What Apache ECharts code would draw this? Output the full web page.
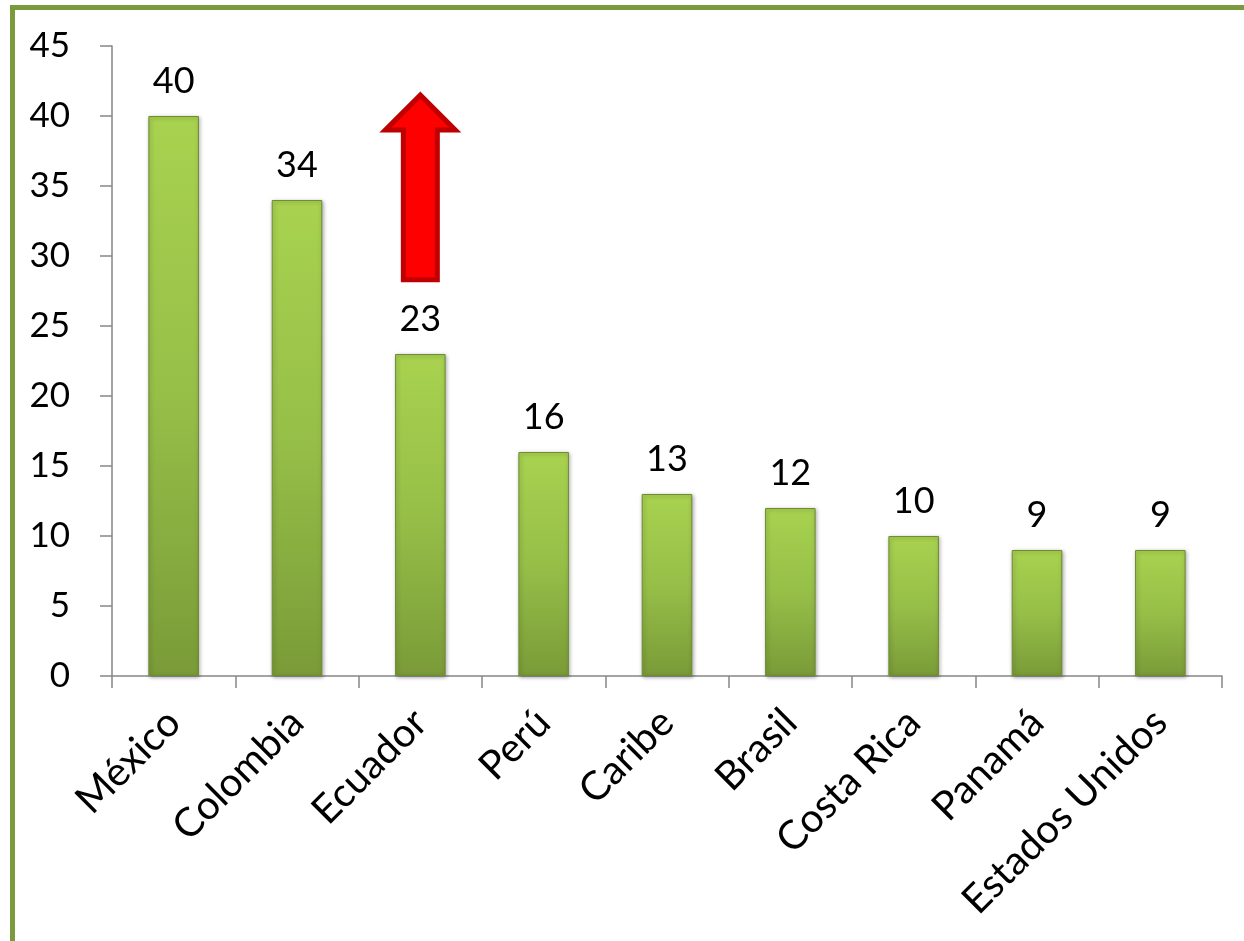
<!DOCTYPE html>
<html>
<head>
<meta charset="utf-8">
<script src="https://cdn.jsdelivr.net/npm/echarts@6/dist/echarts.min.js"></script>
<style>
html,body{margin:0;padding:0;background:#fff;}
#frame{position:absolute;left:10px;top:5px;width:1300px;height:1000px;border-left:5px solid #7b9a3d;border-top:5px solid #7b9a3d;}
#chart{position:absolute;left:0;top:0;width:1244px;height:941px;}
</style>
</head>
<body>
<div id="frame"></div>
<div id="chart"></div>
<script>
const categories = ['México','Colombia','Ecuador','Perú','Caribe','Brasil','Costa Rica','Panamá','Estados Unidos'];
const values = [40,34,23,16,13,12,10,9,9];
const yTicks = [0,5,10,15,20,25,30,35,40,45];
// arrow annotation next to Ecuador (value-space extents)
const arrowCategory = 'Ecuador';
const arrowTop = 41.5, arrowHeadBase = 39, arrowBottom = 28.3;

const FONT = 'Lato, "Open Sans", sans-serif';
const chart = echarts.init(document.getElementById('chart'));
chart.setOption({
  animation:false,
  grid:{left:112,right:22,top:46,bottom:265,containLabel:false},
  xAxis:{
    type:'category',data:categories,
    axisLine:{lineStyle:{color:'#868686',width:1.5}},
    axisTick:{show:true,length:12,inside:false,lineStyle:{color:'#868686',width:1.5}},
    axisLabel:{rotate:45,margin:40,fontSize:40,color:'#000',fontFamily:FONT,interval:0}
  },
  yAxis:{
    type:'value',min:0,max:45,interval:5,
    axisLine:{show:true,lineStyle:{color:'#868686',width:1.5}},
    axisTick:{show:true,length:12,lineStyle:{color:'#868686',width:1.5}},
    splitLine:{show:false},
    axisLabel:{margin:42,fontSize:35,color:'#000',fontFamily:FONT,
      formatter:v=>yTicks.includes(v)?String(v):''}
  },
  series:[{
    type:'bar',data:values,barWidth:'41%',
    itemStyle:{
      color:new echarts.graphic.LinearGradient(0,0,0,1,[
        {offset:0,color:'#a8d24f'},{offset:0.5,color:'#96bf48'},{offset:1,color:'#7a9b38'}]),
      borderColor:'#6f8c33',borderWidth:1,
      shadowColor:'rgba(0,0,0,0.35)',shadowBlur:4,shadowOffsetX:1,shadowOffsetY:1
    },
    label:{show:true,position:'top',distance:17,fontSize:36,color:'#000',fontFamily:FONT}
  }]
});

function drawArrow(){
  const [cx, yTip] = chart.convertToPixel({gridIndex:0},[arrowCategory,arrowTop]);
  const yBase = chart.convertToPixel({gridIndex:0},[arrowCategory,arrowHeadBase])[1];
  const yBot = chart.convertToPixel({gridIndex:0},[arrowCategory,arrowBottom])[1];
  const headHalf = 35, shaftHalf = 17;
  chart.setOption({graphic:[{
    type:'polygon',z:100,
    shape:{points:[[cx,yTip],[cx+headHalf,yBase],[cx+shaftHalf,yBase],[cx+shaftHalf,yBot],[cx-shaftHalf,yBot],[cx-shaftHalf,yBase],[cx-headHalf,yBase]]},
    style:{fill:'#ff0000',stroke:'#c00000',lineWidth:5,lineJoin:'miter'}
  }]});
}
drawArrow();
</script>
</body>
</html>
